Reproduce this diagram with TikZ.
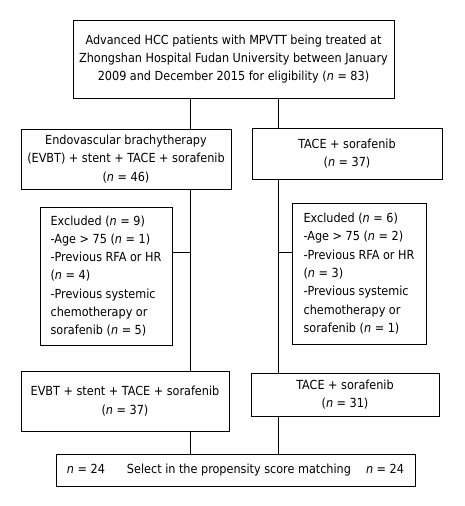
\documentclass[tikz,border=0pt]{standalone}
\usepackage{fontspec}
\setmainfont{DejaVu Sans Condensed}
\tikzset{box/.style={draw,line width=.8pt,align=center,inner sep=2pt,font=\fontsize{12.5}{18.3}\selectfont},
 exclbox/.style={box,align=left}}

\begin{document}
\begin{tikzpicture}[x=1pt,y=-1pt]
\useasboundingbox(0,0)rectangle(464,506);
\node[box,minimum width=321pt,minimum height=78pt](elig)at(233.5,59){Advanced HCC patients with MPVTT being treated at\\Zhongshan Hospital Fudan University between January\\2009 and December 2015 for eligibility (\textit{n} = 83)};
\node[box,minimum width=210pt,minimum height=60pt](evbt)at(126,159){Endovascular brachytherapy\\(EVBT) + stent + TACE + sorafenib\\(\textit{n} = 46)};
\node[box,minimum width=190pt,minimum height=51pt](tace)at(347,153.5){TACE + sorafenib\\(\textit{n} = 37)};
\node[exclbox,minimum width=132pt,minimum height=138pt](exclL)at(106,276){Excluded (\textit{n} = 9)\\-Age > 75 (\textit{n} = 1)\\-Previous RFA or HR\\(\textit{n} = 4)\\-Previous systemic\\chemotherapy or\\sorafenib (\textit{n} = 5)};
\node[exclbox,minimum width=134pt,minimum height=141pt](exclR)at(359,273.5){Excluded (\textit{n} = 6)\\-Age > 75 (\textit{n} = 2)\\-Previous RFA or HR\\(\textit{n} = 3)\\-Previous systemic\\chemotherapy or\\sorafenib (\textit{n} = 1)};
\node[box,minimum width=208pt,minimum height=60pt](evbtB)at(125,401){EVBT + stent + TACE + sorafenib\\(\textit{n} = 37)};
\node[box,minimum width=188pt,minimum height=43pt](taceB)at(345,394.5){TACE + sorafenib\\(\textit{n} = 31)};
\node[box,minimum width=359pt,minimum height=32pt](psm)at(235.5,470){\textit{n} = 24\hspace{22pt}Select in the propensity score matching\hspace{15pt}\textit{n} = 24};
% spines and branches
\coordinate(spL)at(190,0);\coordinate(spR)at(278,0);
\coordinate(brL)at(190,252);\coordinate(brR)at(278,252);
\draw[line width=.8pt](elig.south-|spL)--(evbt.north-|spL);\draw[line width=.8pt](elig.south-|spR)--(tace.north-|spR);
\draw[line width=.8pt](evbt.south-|spL)--(evbtB.north-|spL);\draw[line width=.8pt](brL)--(brL-|exclL.east);
\draw[line width=.8pt](tace.south-|spR)--(taceB.north-|spR);\draw[line width=.8pt](brR)--(brR-|exclR.west);
\draw[line width=.8pt](evbtB.south-|spL)--(psm.north-|spL);\draw[line width=.8pt](taceB.south-|spR)--(psm.north-|spR);
\end{tikzpicture}
\end{document}
